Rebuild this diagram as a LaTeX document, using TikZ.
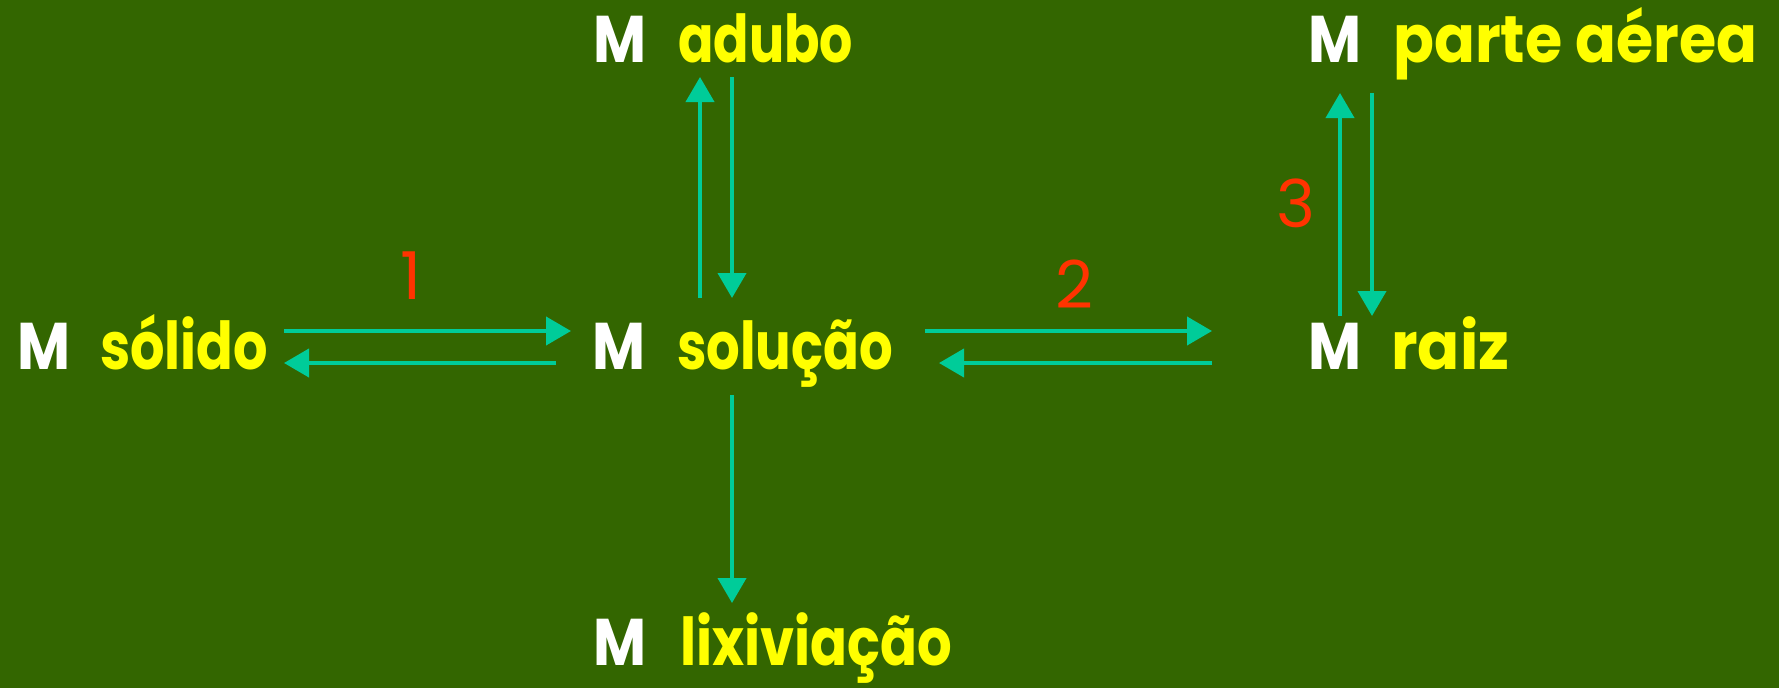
\documentclass[tikz,border=0pt]{standalone}
\usepackage{fontspec}
\usepackage{graphicx}
\setmainfont{Poppins}
\usetikzlibrary{arrows.meta}
\definecolor{bgc}{HTML}{336600}
\definecolor{arrc}{HTML}{00CC99}
\definecolor{txty}{HTML}{FFFF00}
\definecolor{numc}{HTML}{FF3300}
\newcommand\fitw[2]{\resizebox{#1pt}{\height}{#2}}
\begin{document}
\begin{tikzpicture}[x=1pt,y=-1pt,
  lab/.style={anchor=base west,inner sep=0pt,font=\fontsize{66}{70}\selectfont\bfseries},
  mlab/.style={lab,text=white},
  wlab/.style={lab,text=txty},
  conn/.style={draw=arrc,line width=4pt,-{Triangle[length=25pt,width=28pt]}},
  num/.style={text=numc,inner sep=0pt,font=\fontsize{66}{70}\selectfont}]
\fill[bgc] (0,0) rectangle (1779,688);
\useasboundingbox (0,0) rectangle (1779,688);
% labels
\node[mlab] (mS) at (17,369) {\fitw{53}{M}};
\node[wlab] (solido) at (100,369) {\fitw{168}{sólido}};
\node[mlab] (mL) at (592,369) {\fitw{53}{M}};
\node[wlab] (solucao) at (677,369) {\fitw{216}{solução}};
\node[mlab] (mR) at (1308,369) {\fitw{53}{M}};
\node[wlab] (raiz) at (1391,369) {\fitw{118}{raiz}};
\node[mlab] (mA) at (593,62) {\fitw{53}{M}};
\node[wlab] (adubo) at (678,62) {\fitw{175}{adubo}};
\node[mlab] (mP) at (1308,62) {\fitw{53}{M}};
\node[wlab] (parte) at (1393,62) {\fitw{364}{parte aérea}};
\node[mlab] (mX) at (593,665) {\fitw{53}{M}};
\node[wlab] (lixi) at (680,665) {\fitw{272}{lixiviação}};
% numbers
\node[num] (n1) at (411,276) {1};
\node[num] (n2) at (1074,284) {2};
\node[num] (n3) at (1296,203) {3};
% connector ends
\coordinate (s1) at (284,331); \coordinate (l1) at (571,331);
\coordinate (l2) at (556,363); \coordinate (s2) at (284,363);
\coordinate (lu) at (700,298); \coordinate (au) at (700,77);
\coordinate (ad) at (732,77);  \coordinate (ld) at (732,298);
\coordinate (lx) at (732,395); \coordinate (xx) at (732,603);
\coordinate (l3) at (925,331); \coordinate (r3) at (1212,331);
\coordinate (r4) at (1212,363); \coordinate (l4) at (939,363);
\coordinate (ru) at (1340,316); \coordinate (pu) at (1340,93);
\coordinate (pd) at (1372,93);  \coordinate (rd) at (1372,316);
\draw[conn] (s1) -- (l1);
\draw[conn] (l2) -- (s2);
\draw[conn] (lu) -- (au);
\draw[conn] (ad) -- (ld);
\draw[conn] (lx) -- (xx);
\draw[conn] (l3) -- (r3);
\draw[conn] (r4) -- (l4);
\draw[conn] (ru) -- (pu);
\draw[conn] (pd) -- (rd);
\end{tikzpicture}
\end{document}
